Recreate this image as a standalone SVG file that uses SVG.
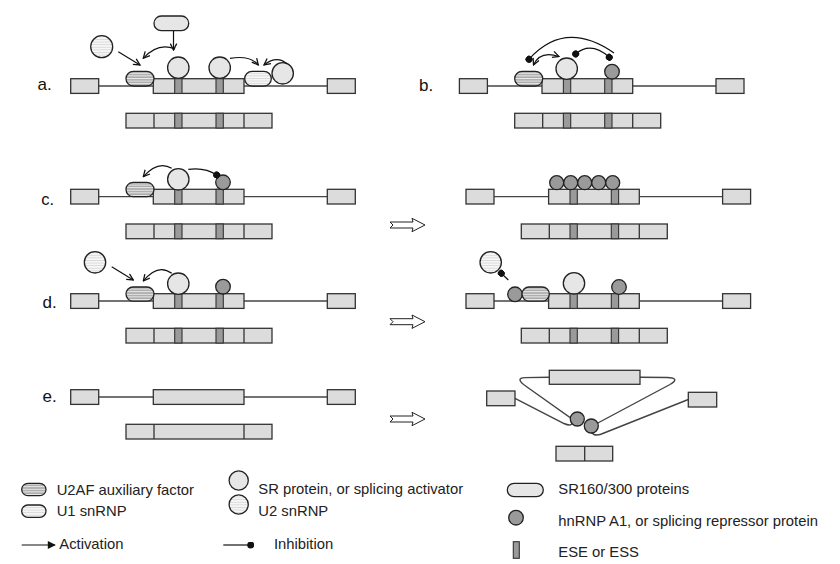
<svg xmlns="http://www.w3.org/2000/svg" xmlns:xlink="http://www.w3.org/1999/xlink" width="840" height="564" viewBox="0 0 840 564">
<style>
.exon{fill:#dcdcdc;stroke:#333;stroke-width:1.3}
.ese{fill:#9a9a9a;stroke:#333;stroke-width:1.1}
.div{stroke:#333;stroke-width:1.3}
.intron{stroke:#444;stroke-width:1.4;fill:none}
.sr{fill:#e6e6e6;stroke:#222;stroke-width:1.3}
.u2{fill:url(#hl);stroke:#222;stroke-width:1.3}
.hn{fill:#9a9a9a;stroke:#222;stroke-width:1.3}
.u2af{fill:url(#hd);stroke:#222;stroke-width:1.3}
.u1{fill:url(#hl);stroke:#222;stroke-width:1.3}
.sr160{fill:#e6e6e6;stroke:#222;stroke-width:1.3}
.act{stroke:#111;stroke-width:1.2;fill:none;marker-end:url(#open)}
.inh{stroke:#111;stroke-width:1.2;fill:none;marker-end:url(#dot)}
.hollow{fill:#fff;stroke:#222;stroke-width:1}
.lab{font-family:"Liberation Sans",Arial,sans-serif;font-size:17px;fill:#111;text-anchor:end}
.leg{font-family:"Liberation Sans",Arial,sans-serif;font-size:14.8px;fill:#222}
</style>
<defs>
<pattern id="hd" patternUnits="userSpaceOnUse" width="4" height="2.6"><rect width="4" height="2.6" fill="#aaaaaa"/><rect width="4" height="1" fill="#ececec"/></pattern>
<pattern id="hl" patternUnits="userSpaceOnUse" width="4" height="2.6"><rect width="4" height="2.6" fill="#f7f7f7"/><rect width="4" height="0.9" fill="#d8d8d8"/></pattern>
<marker id="open" viewBox="0 0 10 10" refX="9" refY="5" markerUnits="userSpaceOnUse" markerWidth="8" markerHeight="8" orient="auto-start-reverse"><path d="M1,1 L9,5 L1,9" fill="none" stroke="#111" stroke-width="1.6"/></marker>
<marker id="dot" viewBox="0 0 10 10" refX="5" refY="5" markerUnits="userSpaceOnUse" markerWidth="7" markerHeight="7" orient="auto"><circle cx="5" cy="5" r="5" fill="#111"/></marker>
<marker id="tri" viewBox="0 0 10 10" refX="9" refY="5" markerUnits="userSpaceOnUse" markerWidth="9" markerHeight="8" orient="auto"><path d="M0,0 L10,5 L0,10 z" fill="#111"/></marker>
<g id="pre">
<line class="intron" x1="98.7" y1="7.3" x2="153.3" y2="7.3"/>
<line class="intron" x1="244" y1="7.3" x2="327.3" y2="7.3"/>
<rect class="exon" x="70.7" y="0" width="28" height="14.7"/>
<rect class="exon" x="153.3" y="0" width="90.7" height="14.7"/>
<rect class="exon" x="327.3" y="0" width="28" height="14.7"/>
<rect class="ese" x="174.7" y="0" width="7.3" height="14.7"/>
<rect class="ese" x="216" y="0" width="7.3" height="14.7"/>
</g>
<g id="mrna">
<rect class="exon" x="126" y="0" width="146" height="14.7"/>
<line class="div" x1="154" y1="0" x2="154" y2="14.7"/>
<line class="div" x1="244" y1="0" x2="244" y2="14.7"/>
<rect class="ese" x="174.7" y="0" width="7.3" height="14.7"/>
<rect class="ese" x="216" y="0" width="7.3" height="14.7"/>
</g>
<polygon id="harrow" class="hollow" points="0,-3 23,-3 22,-6.7 35,0 22,6.7 23,3 0,3 3,0"/>
</defs>

<!-- labels -->
<g id="labels">
<text class="lab" x="51.7" y="90">a.</text>
<text class="lab" x="433.3" y="90.7">b.</text>
<text class="lab" x="54" y="205" style="font-size:16.5px">c.</text>
<text class="lab" x="56.7" y="308.3">d.</text>
<text class="lab" x="56.7" y="401.7">e.</text>
</g>

<!-- panel a -->
<g id="a-pre"><use href="#pre" transform="translate(0,78.7)"/></g>
<g id="a-mrna"><use href="#mrna" transform="translate(0,113.3)"/></g>
<g id="a-u2af"><rect class="u2af" x="126" y="71.3" width="28" height="14.7" rx="7.3"/></g>
<g id="a-sr1"><circle class="sr" cx="178.3" cy="67.7" r="10.7"/></g>
<g id="a-sr2"><circle class="sr" cx="219.7" cy="67.7" r="10.7"/></g>
<g id="a-u1"><rect class="u1" x="244.7" y="71.3" width="26.6" height="14.7" rx="7.3"/></g>
<g id="a-sr3"><circle class="sr" cx="282.7" cy="73.3" r="10.7"/></g>
<g id="a-u2"><circle class="u2" cx="101.7" cy="46.7" r="11"/></g>
<g id="a-sr160"><rect class="sr160" x="154" y="16" width="34.7" height="14.7" rx="7.3"/></g>

<!-- panel b -->
<g id="b-pre"><use href="#pre" transform="translate(388.7,78.7)"/></g>
<g id="b-mrna"><use href="#mrna" transform="translate(388.7,113.3)"/></g>
<g id="b-u2af"><rect class="u2af" x="514.7" y="71.3" width="28" height="14.7" rx="7.3"/></g>
<g id="b-sr"><circle class="sr" cx="566.7" cy="68.7" r="10.7"/></g>
<g id="b-hn"><circle class="hn" cx="612" cy="71.7" r="7.3"/></g>

<!-- panel c -->
<g id="c-pre"><use href="#pre" transform="translate(0,189.3)"/></g>
<g id="c-mrna"><use href="#mrna" transform="translate(0,224)"/></g>
<g id="c-u2af"><rect class="u2af" x="126" y="182.3" width="28" height="14.4" rx="7.2"/></g>
<g id="c-sr"><circle class="sr" cx="178.3" cy="179.3" r="10.7"/></g>
<g id="c-hn"><circle class="hn" cx="223" cy="182.3" r="7.3"/></g>
<g id="c2-pre"><use href="#pre" transform="translate(395.3,189.3)"/></g>
<g id="c2-mrna"><use href="#mrna" transform="translate(395.3,224)"/></g>
<g id="c2-hn">
<circle class="hn" cx="556.7" cy="182.7" r="7"/>
<circle class="hn" cx="570.7" cy="182.7" r="7"/>
<circle class="hn" cx="584.7" cy="182.7" r="7"/>
<circle class="hn" cx="598.7" cy="182.7" r="7"/>
<circle class="hn" cx="612.7" cy="182.7" r="7"/>
</g>

<!-- panel d -->
<g id="d-pre"><use href="#pre" transform="translate(0,293.7)"/></g>
<g id="d-mrna"><use href="#mrna" transform="translate(0,328.3)"/></g>
<g id="d-u2af"><rect class="u2af" x="126" y="287" width="28" height="14.2" rx="7.1"/></g>
<g id="d-sr"><circle class="sr" cx="178.3" cy="283.7" r="10.7"/></g>
<g id="d-hn"><circle class="hn" cx="223" cy="286.7" r="7.3"/></g>
<g id="d-u2"><circle class="u2" cx="95" cy="262.3" r="10.7"/></g>
<g id="d2-pre"><use href="#pre" transform="translate(395.3,293.7)"/></g>
<g id="d2-mrna"><use href="#mrna" transform="translate(395.3,328.3)"/></g>
<g id="d2-hn1"><circle class="hn" cx="515" cy="294.3" r="7.3"/></g>
<g id="d2-u2af"><rect class="u2af" x="522" y="287" width="27.3" height="14.2" rx="7.1"/></g>
<g id="d2-sr"><circle class="sr" cx="574" cy="283.3" r="10.7"/></g>
<g id="d2-hn2"><circle class="hn" cx="619" cy="287" r="7.3"/></g>
<g id="d2-u2"><circle class="u2" cx="490.7" cy="262.3" r="10.7"/></g>

<!-- panel e -->
<g id="e-pre">
<line class="intron" x1="98.7" y1="397" x2="153.3" y2="397"/>
<line class="intron" x1="244" y1="397" x2="327.3" y2="397"/>
<rect class="exon" x="70.7" y="389.7" width="28" height="14.7"/>
<rect class="exon" x="153.3" y="389.7" width="90.7" height="14.7"/>
<rect class="exon" x="327.3" y="389.7" width="28" height="14.7"/>
</g>
<g id="e-mrna">
<rect class="exon" x="126" y="424.3" width="146" height="14.7"/>
<line class="div" x1="154" y1="424.3" x2="154" y2="439"/>
<line class="div" x1="244" y1="424.3" x2="244" y2="439"/>
</g>
<g id="e2-pre">
<path class="intron" d="M515,398.3 L564,423.5 Q574,428 572,419 L527,387 Q514,378 525,377.6 L549.3,377.3"/>
<path class="intron" d="M640,377.3 L667,377.5 Q681,378 670,384.5 L596,424 Q587,431 594,434.5 Q598,436 604,433 L688.3,399.5"/>
<rect class="exon" x="549.3" y="370.3" width="90.7" height="14"/>
<rect class="exon" x="486.7" y="391" width="28.3" height="14.7"/>
<rect class="exon" x="688.3" y="392.3" width="28.4" height="14.7"/>
<circle class="hn" cx="577.3" cy="419" r="7"/>
<circle class="hn" cx="591.3" cy="426" r="7"/>
</g>
<g id="e2-mrna">
<rect class="exon" x="556" y="446.3" width="56.7" height="14.7"/>
<line class="div" x1="584.7" y1="446.3" x2="584.7" y2="461"/>
</g>

<!-- connectors -->
<g id="connectors">
<line class="act" x1="118.3" y1="51.7" x2="140" y2="65"/>
<path class="act" d="M175,49 Q158,42 143.3,58.3"/>
<line class="act" x1="173.5" y1="31" x2="173.5" y2="50"/>
<path class="act" d="M230,58.3 Q250,55 258.3,65"/>
<path class="act" d="M287,64 Q277,55 264,65"/>
<path class="inh" d="M614,53 Q565,19 529,59.3"/>
<path class="inh" d="M575.7,54 Q591,41 609.3,57.3" style="marker-start:url(#dot)"/>
<path class="act" d="M533.5,65 Q540,50 559,56.5" style="marker-start:url(#open)"/>
<path class="act" d="M171.7,168.3 Q158,160 143.3,176.7"/>
<path class="inh" d="M188.3,169.3 Q205,167 216.7,175"/>
<line class="act" x1="111.7" y1="266.7" x2="133.3" y2="280"/>
<path class="act" d="M171.7,273.3 Q158,263 143.3,281"/>
<line class="inh" x1="508.3" y1="280" x2="501.3" y2="273.3"/>
<use href="#harrow" transform="translate(390,225)"/>
<use href="#harrow" transform="translate(390,321.7)"/>
<use href="#harrow" transform="translate(390,419)"/>
</g>

<!-- legend -->
<g id="legend">
<rect class="u2af" x="21.7" y="483.3" width="24.3" height="12.4" rx="6.2"/>
<text class="leg" x="56.7" y="494.5">U2AF auxiliary factor</text>
<rect class="u1" x="21.7" y="505" width="24.3" height="12.3" rx="6.1"/>
<text class="leg" x="56.7" y="516">U1 snRNP</text>
<line x1="21.7" y1="545" x2="55" y2="545" stroke="#111" stroke-width="1.2" marker-end="url(#tri)"/>
<text class="leg" x="59.3" y="549.3">Activation</text>
<circle class="sr" cx="238.7" cy="480.5" r="9.6"/>
<text class="leg" x="258.3" y="494.3">SR protein, or splicing activator</text>
<circle class="u2" cx="238.7" cy="504.5" r="9.6"/>
<text class="leg" x="258.3" y="516">U2 snRNP</text>
<line x1="223.3" y1="545" x2="250.7" y2="545" stroke="#111" stroke-width="1.2" marker-end="url(#dot)"/>
<text class="leg" x="274" y="549.3">Inhibition</text>
<rect class="sr160" x="507.3" y="483.3" width="36" height="13.4" rx="6.7"/>
<text class="leg" x="558.3" y="494.3">SR160/300 proteins</text>
<circle class="hn" cx="516" cy="517.7" r="7.3"/>
<text class="leg" x="558.3" y="525.5">hnRNP A1, or splicing repressor protein</text>
<rect class="ese" x="513.3" y="541.7" width="6" height="16.6"/>
<text class="leg" x="558.3" y="556.7">ESE or ESS</text>
</g>
</svg>
